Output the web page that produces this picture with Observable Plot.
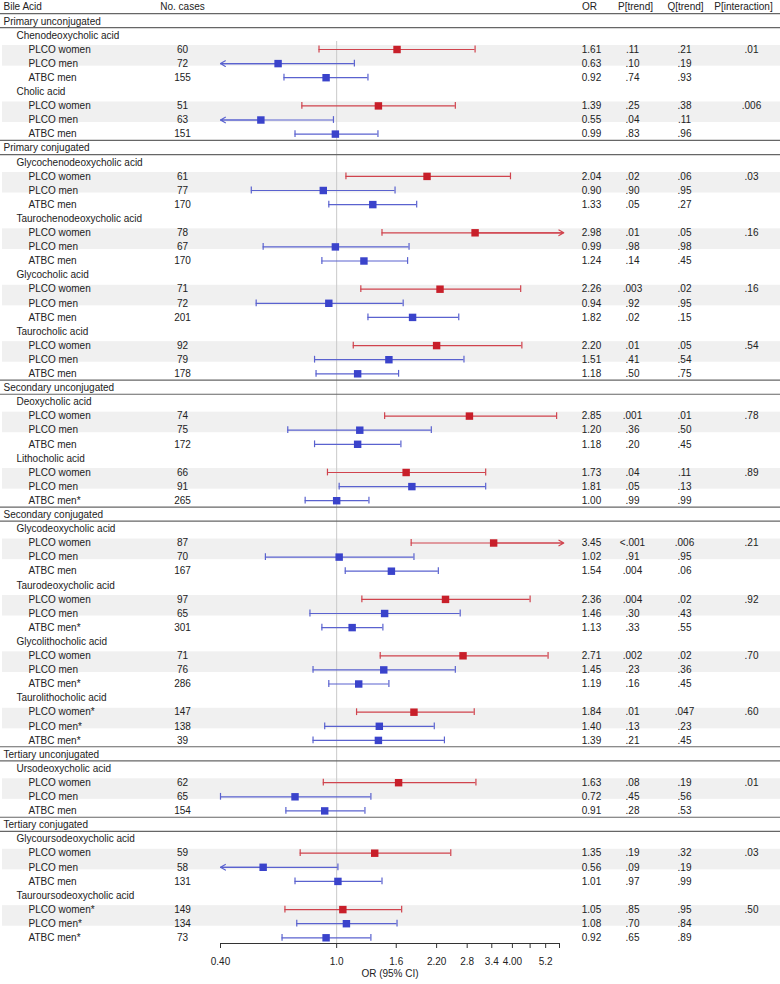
<!DOCTYPE html>
<html><head><meta charset="utf-8">
<script src="https://cdn.jsdelivr.net/npm/d3@7"></script>
<script src="https://cdn.jsdelivr.net/npm/@observablehq/plot@0.6"></script>
<style>body{margin:0;background:#fff}</style>
</head><body><div id="chart"></div>
<script>
const groupNames = ["Primary unconjugated","Primary conjugated","Secondary unconjugated","Secondary conjugated","Tertiary unconjugated","Tertiary conjugated"];
const acidNames = ["Chenodeoxycholic acid","Cholic acid","Glycochenodeoxycholic acid","Taurochenodeoxycholic acid","Glycocholic acid","Taurocholic acid","Deoxycholic acid","Lithocholic acid","Glycodeoxycholic acid","Taurodeoxycholic acid","Glycolithocholic acid","Taurolithocholic acid","Ursodeoxycholic acid","Glycoursodeoxycholic acid","Tauroursodeoxycholic acid"];
const acidGroup = [0,0,1,1,1,1,2,2,3,3,3,3,4,5,5];
const cohortLabels = [
 "PLCO women","PLCO men","ATBC men",
 "PLCO women","PLCO men","ATBC men",
 "PLCO women","PLCO men","ATBC men",
 "PLCO women","PLCO men","ATBC men",
 "PLCO women","PLCO men","ATBC men",
 "PLCO women","PLCO men","ATBC men",
 "PLCO women","PLCO men","ATBC men",
 "PLCO women","PLCO men","ATBC men*",
 "PLCO women","PLCO men","ATBC men",
 "PLCO women","PLCO men","ATBC men*",
 "PLCO women","PLCO men","ATBC men*",
 "PLCO women*","PLCO men*","ATBC men*",
 "PLCO women","PLCO men","ATBC men",
 "PLCO women","PLCO men","ATBC men",
 "PLCO women*","PLCO men*","ATBC men*"];
const cases = [60,72,155, 51,63,151, 61,77,170, 78,67,170, 71,72,201, 92,79,178, 74,75,172, 66,91,265, 87,70,167, 97,65,301, 71,76,286, 147,138,39, 62,65,154, 59,58,131, 149,134,73];
const orValues = [1.61,0.63,0.92, 1.39,0.55,0.99, 2.04,0.90,1.33, 2.98,0.99,1.24, 2.26,0.94,1.82, 2.20,1.51,1.18, 2.85,1.20,1.18, 1.73,1.81,1.00, 3.45,1.02,1.54, 2.36,1.46,1.13, 2.71,1.45,1.19, 1.84,1.40,1.39, 1.63,0.72,0.91, 1.35,0.56,1.01, 1.05,1.08,0.92];
const orLabels = ["1.61","0.63","0.92","1.39","0.55","0.99","2.04","0.90","1.33","2.98","0.99","1.24","2.26","0.94","1.82","2.20","1.51","1.18","2.85","1.20","1.18","1.73","1.81","1.00","3.45","1.02","1.54","2.36","1.46","1.13","2.71","1.45","1.19","1.84","1.40","1.39","1.63","0.72","0.91","1.35","0.56","1.01","1.05","1.08","0.92"];
const ciLower = [0.87,0.345,0.66, 0.76,0.31,0.72, 1.076,0.51,0.94, 1.43,0.56,0.89, 1.21,0.53,1.28, 1.14,0.84,0.85, 1.46,0.68,0.84, 0.93,1.02,0.78, 1.80,0.57,1.07, 1.22,0.81,0.89, 1.41,0.83,0.94, 1.17,0.91,0.83, 0.90,0.40,0.67, 0.75,0.31,0.72, 0.665,0.73,0.65];
const ciUpper = [2.98,1.15,1.28, 2.55,0.975,1.385, 3.94,1.585,1.88, 6.2,1.77,1.75, 4.27,1.69,2.62, 4.31,2.73,1.63, 5.67,2.11,1.66, 3.24,3.24,1.29, 6.6,1.84,2.23, 4.6,2.65,1.44, 5.30,2.55,1.51, 2.96,2.16,2.34, 3.0,1.31,1.25, 2.46,1.01,1.43, 1.67,1.61,1.31];
const pTrend = [".11",".10",".74", ".25",".04",".83", ".02",".90",".05", ".01",".98",".14", ".003",".92",".02", ".01",".41",".50", ".001",".36",".20", ".04",".05",".99", "<.001",".91",".004", ".004",".30",".33", ".002",".23",".16", ".01",".13",".21", ".08",".45",".28", ".19",".09",".97", ".85",".70",".65"];
const qTrend = [".21",".19",".93", ".38",".11",".96", ".06",".95",".27", ".05",".98",".45", ".02",".95",".15", ".05",".54",".75", ".01",".50",".45", ".11",".13",".99", ".006",".95",".06", ".02",".43",".55", ".02",".36",".45", ".047",".23",".45", ".19",".56",".53", ".32",".19",".99", ".95",".84",".89"];
const pInteraction = [".01",".006",".03",".16",".16",".54",".78",".89",".21",".92",".70",".60",".01",".03",".50"];
const headerLabels = ["Bile Acid","No. cases","OR","P[trend]","Q[trend]","P[interaction]"];
const tickValues = [0.4,1,1.6,2.2,2.8,3.4,4,4.6,5.2,5.8];
const tickLabels = ["0.40","1.0","1.6","2.20","2.8","3.4","4.00","","5.2",""];
const axisTitle = "OR (95% CI)";

const xMin = 0.4, xMax = 5.8, arrowMax = 6.0;
const red = "#c81f2a", redLine = "#d0434d", blue = "#3a43cb", blueLine = "#5a62cf";

const groupRows = [], acidRows = [], dataRows = [], lineRows = [], bandRows = [];
let r = 1;
groupNames.forEach((g, gi) => {
  groupRows.push({row: r, label: g});
  lineRows.push(r - 0.55, r + 0.45);
  r++;
  acidNames.forEach((a, ai) => {
    if (acidGroup[ai] !== gi) return;
    acidRows.push({row: r, label: a});
    r++;
    bandRows.push({row: r});
    for (let k = 0; k < 3; k++) {
      const i = ai * 3 + k;
      const women = cohortLabels[i].includes("women");
      dataRows.push({row: r, label: cohortLabels[i], cases: String(cases[i]), or: orValues[i], orLabel: orLabels[i],
        lo: ciLower[i], hi: ciUpper[i], p: pTrend[i], q: qTrend[i], pint: k === 0 ? pInteraction[ai] : "",
        fill: women ? red : blue, line: women ? redLine : blueLine});
      r++;
    }
  });
});
const caps = [], arrows = [];
dataRows.forEach(d => {
  if (d.lo >= xMin) caps.push({row: d.row, x: d.lo, line: d.line});
  else arrows.push({row: d.row, from: d.or, to: xMin, line: d.line});
  if (d.hi <= xMax) caps.push({row: d.row, x: d.hi, line: d.line});
  else arrows.push({row: d.row, from: d.or, to: arrowMax, line: d.line});
});

const txt = (data, text, anchor, dx, textAnchor) => Plot.text(data, {
  y: d => d.row, text, frameAnchor: anchor, dx, textAnchor, fill: "#222"
});
const header = headerLabels.map((h) => ({row: 0, label: h}));

const chart = Plot.plot({
  width: 780, height: 984,
  marginLeft: 220, marginRight: 221, marginTop: 0, marginBottom: 41,
  x: {type: "log", domain: [xMin, xMax]},
  y: {domain: [0, 66], range: [6.7, 937.3], axis: null},
  style: {fontFamily: "'Liberation Sans', Arial, sans-serif", fontSize: "10px", color: "#222", background: "#fff"},
  marks: [
    Plot.rect(bandRows, {y1: d => d.row - 0.28, y2: d => d.row + 1.18, fill: "#f0f0f0", insetLeft: -218, insetRight: -221}),
    Plot.ruleX([1], {stroke: "#c9c9c9", insetTop: 41}),
    Plot.ruleY(lineRows, {y: d => d, stroke: "#666", strokeWidth: 1.2, insetLeft: -220, insetRight: -221}),
    Plot.frame({anchor: "bottom", stroke: "#333"}),
    Plot.axisX({ticks: tickValues, tickFormat: d => tickLabels[tickValues.indexOf(d)], tickSize: 5, tickPadding: 9, label: null, stroke: "#333", fill: "#222"}),
    Plot.text([axisTitle], {frameAnchor: "bottom", dy: 33, text: d => d, fill: "#222"}),
    Plot.ruleY(dataRows, {y: "row", x1: d => Math.max(d.lo, xMin), x2: d => Math.min(d.hi, arrowMax), stroke: "line", strokeWidth: 1.2}),
    Plot.ruleX(caps, {x: "x", y1: d => d.row - 0.24, y2: d => d.row + 0.24, stroke: "line", strokeWidth: 1.2}),
    Plot.arrow(arrows, {x1: "from", x2: "to", y1: "row", y2: "row", stroke: "line", strokeWidth: 1.2, headLength: 7, headAngle: 60}),
    Plot.dot(dataRows, {x: "or", y: "row", symbol: "square", r: 4.2, fill: "fill", stroke: null}),
    // header
    txt([header[0]], "label", "left", -217, "start"),
    txt([header[1]], "label", "left", -38, "middle"),
    txt([header[2]], "label", "right", 30, "middle"),
    txt([header[3]], "label", "right", 76, "middle"),
    txt([header[4]], "label", "right", 126, "middle"),
    txt([header[5]], "label", "right", 184, "middle"),
    // labels
    txt(groupRows, "label", "left", -217, "start"),
    txt(acidRows, "label", "left", -204, "start"),
    txt(dataRows, "label", "left", -192, "start"),
    txt(dataRows, "cases", "left", -38, "middle"),
    txt(dataRows, "orLabel", "right", 32, "middle"),
    txt(dataRows, "p", "right", 73, "middle"),
    txt(dataRows, "q", "right", 125, "middle"),
    txt(dataRows, "pint", "right", 192, "middle")
  ]
});
document.getElementById("chart").appendChild(chart);
</script>
</body></html>
